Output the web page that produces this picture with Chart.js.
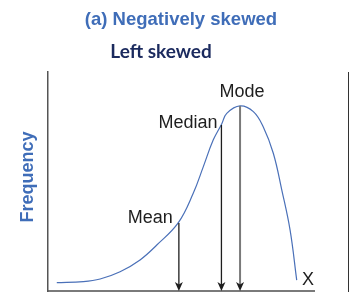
<!DOCTYPE html>
<html>
<head>
<meta charset="utf-8">
<script src="https://cdn.jsdelivr.net/npm/chart.js@4.4.0/dist/chart.umd.min.js"></script>
<style>
  html, body { margin: 0; padding: 0; background: #fff; }
</style>
</head>
<body>
<canvas id="skew" width="350" height="308"></canvas>
<script>
// curve (x: 0-100 along the axis, y: 0-100 up the axis)
var curveX = [3.3, 13.3, 19.6, 27.1, 34.6, 40.9, 49.0, 54.6, 58.4, 62.1, 65.3, 67.2, 72.2, 77.2, 80.9, 84.7, 87.9, 91.0, 93.5];
var curveY = [3.8, 4.3, 5.5, 8.8, 14.2, 21.0, 31.2, 44.6, 56.8, 68.9, 76.3, 81.1, 84.5, 81.9, 75.0, 62.9, 46.1, 27.9, 5.0];

// mean / median / mode arrows
var markerLabels = ['Mean', 'Median', 'Mode'];
var markerX = [49.2, 65.2, 72.2];
var markerTop = [31.0, 75.8, 84.5];

var titleText = '(a) Negatively skewed';
var subtitleText = 'Left skewed';
var yTitle = 'Frequency';
var xTitle = 'X';

var points = curveX.map(function (x, i) { return { x: x, y: curveY[i] }; });

// arrow with a small notch at the back of the head
function arrow(ctx, x, yTop, yTip, color, width) {
  ctx.save();
  ctx.strokeStyle = color;
  ctx.lineWidth = width;
  ctx.beginPath();
  ctx.moveTo(x, yTop);
  ctx.lineTo(x, yTip - 6);
  ctx.stroke();
  ctx.fillStyle = '#1e1e1e';
  ctx.beginPath();
  ctx.moveTo(x, yTip);
  ctx.lineTo(x - 4, yTip - 9);
  ctx.lineTo(x, yTip - 6.5);
  ctx.lineTo(x + 4, yTip - 9);
  ctx.closePath();
  ctx.fill();
  ctx.restore();
}

var decor = {
  id: 'decor',
  afterDatasetsDraw: function (chart) {
    var ctx = chart.ctx;
    var xs = chart.scales.x, ys = chart.scales.y;
    var base = ys.getPixelForValue(0);

    // arrows + labels
    var colors = ['#1e1e1e', '#1e1e1e', '#7a7a7a'];
    var widths = [1.3, 1.3, 2];
    markerLabels.forEach(function (lab, i) {
      var px = xs.getPixelForValue(markerX[i]);
      var py = ys.getPixelForValue(markerTop[i]);
      arrow(ctx, px, py, base, colors[i], widths[i]);
      ctx.save();
      ctx.fillStyle = '#1e1e1e';
      ctx.font = '18px "Liberation Sans", Arial, sans-serif';
      ctx.textBaseline = 'alphabetic';
      if (lab === 'Mode') {
        ctx.textAlign = 'center';
        ctx.fillText(lab, px + 2, py - 9);
      } else if (lab === 'Median') {
        ctx.textAlign = 'right';
        ctx.fillText(lab, px - 4, py + 3);
      } else {
        ctx.textAlign = 'right';
        ctx.fillText(lab, px - 6, py);
      }
      ctx.restore();
    });

    ctx.save();
    // X at the end of the axis
    ctx.fillStyle = '#1e1e1e';
    ctx.font = '18px "Liberation Sans", Arial, sans-serif';
    ctx.textAlign = 'right';
    ctx.fillText(xTitle, chart.chartArea.right, 285);

    // titles
    ctx.textAlign = 'center';
    ctx.fillStyle = '#3f6db8';
    ctx.font = 'bold 18.5px "Liberation Sans", Arial, sans-serif';
    ctx.fillText(titleText, 181, 25);
    ctx.fillStyle = '#1b2a5e';
    ctx.font = 'bold 19px Lato, "Open Sans", sans-serif';
    ctx.fillText(subtitleText, 161, 58);

    // Frequency
    ctx.translate(33, 177);
    ctx.rotate(-Math.PI / 2);
    ctx.fillStyle = '#3f6db8';
    ctx.font = 'bold 18px "Liberation Sans", Arial, sans-serif';
    ctx.fillText(yTitle, 0, 0);
    ctx.restore();

    // edge of the next panel
    ctx.save();
    ctx.strokeStyle = '#333';
    ctx.lineWidth = 1;
    ctx.beginPath();
    ctx.moveTo(348.5, 72);
    ctx.lineTo(348.5, 292);
    ctx.stroke();
    ctx.restore();
  }
};

new Chart(document.getElementById('skew'), {
  type: 'scatter',
  data: {
    datasets: [{
      data: points,
      showLine: true,
      borderColor: '#4a70b8',
      borderWidth: 1.2,
      pointRadius: 0,
      tension: 0.4,
      fill: false
    }]
  },
  options: {
    responsive: false,
    animation: false,
    layout: { padding: { left: 48, right: 36, top: 72, bottom: 17 } },
    plugins: { legend: { display: false }, tooltip: { enabled: false } },
    scales: {
      x: {
        min: 0, max: 100,
        ticks: { display: false },
        grid: { display: false, drawTicks: false },
        border: { display: true, color: '#7a7a7a', width: 2 }
      },
      y: {
        min: 0, max: 100,
        ticks: { display: false },
        grid: { display: false, drawTicks: false },
        border: { display: true, color: '#555', width: 1.5 }
      }
    }
  },
  plugins: [decor]
});
</script>
</body>
</html>
